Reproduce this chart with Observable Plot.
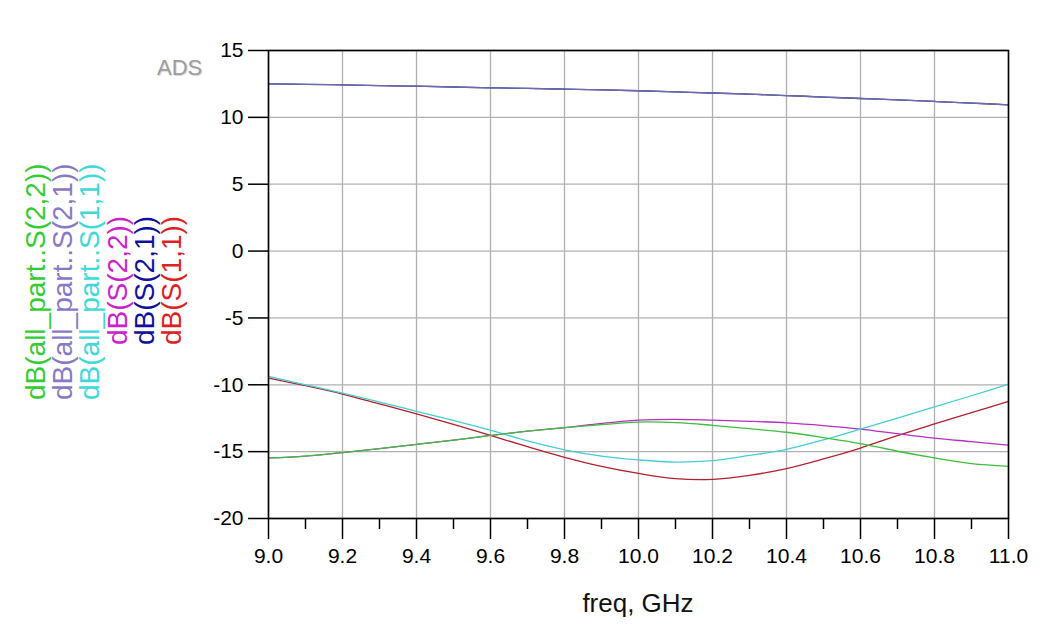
<!DOCTYPE html>
<html>
<head>
<meta charset="utf-8">
<script src="https://cdn.jsdelivr.net/npm/d3@7"></script>
<script src="https://cdn.jsdelivr.net/npm/@observablehq/plot@0.6"></script>
<style>
  html, body { margin: 0; padding: 0; background: #fff; }
  #wrap { position: relative; width: 1051px; height: 634px; overflow: hidden; font-family: "Liberation Sans", Arial, sans-serif; }
  #ads { position: absolute; left: 157px; top: 55px; font-size: 22px; color: #9c9c9c; text-shadow: 1px 1px 1px #d8d8d8; }
  #xtitle { position: absolute; left: 0; width: 1276px; top: 588px; text-align: center; font-size: 26px; color: #111; }
  #chart svg g[aria-label="y-axis tick label"] text,
  #chart svg g[aria-label="x-axis tick label"] text { font-size: 21px; }
</style>
</head>
<body>
<div id="wrap">
  <div id="chart"></div>
  <div id="ads">ADS</div>
  <div id="xtitle">freq, GHz</div>
</div>
<script>
// ---- data ----
const freq = [9.0, 9.1, 9.2, 9.3, 9.4, 9.5, 9.6, 9.7, 9.8, 9.9, 10.0, 10.1, 10.2, 10.3, 10.4, 10.5, 10.6, 10.7, 10.8, 10.9, 11.0];
const dB_S11 = [-9.50, -10.07, -10.69, -11.43, -12.18, -12.97, -13.79, -14.63, -15.42, -16.10, -16.63, -17.02, -17.07, -16.77, -16.27, -15.55, -14.73, -13.80, -12.93, -12.08, -11.24];
const dB_S21 = [12.51, 12.47, 12.43, 12.38, 12.33, 12.27, 12.21, 12.16, 12.11, 12.05, 11.99, 11.91, 11.82, 11.73, 11.63, 11.52, 11.41, 11.30, 11.19, 11.07, 10.94];
const dB_S22 = [-15.47, -15.33, -15.07, -14.78, -14.46, -14.14, -13.79, -13.47, -13.20, -12.88, -12.64, -12.58, -12.64, -12.73, -12.85, -13.05, -13.31, -13.66, -13.99, -14.25, -14.51];
const dB_all_S11 = [-9.38, -10.00, -10.62, -11.29, -11.98, -12.67, -13.39, -14.20, -14.86, -15.33, -15.62, -15.78, -15.67, -15.28, -14.83, -14.12, -13.31, -12.49, -11.66, -10.82, -9.95];
const dB_all_S21 = [12.51, 12.47, 12.43, 12.38, 12.33, 12.27, 12.21, 12.16, 12.11, 12.05, 11.99, 11.91, 11.82, 11.73, 11.63, 11.52, 11.41, 11.30, 11.19, 11.07, 10.94];
const dB_all_S22 = [-15.47, -15.33, -15.07, -14.78, -14.46, -14.14, -13.79, -13.47, -13.20, -12.98, -12.79, -12.83, -13.03, -13.28, -13.55, -13.95, -14.40, -14.97, -15.47, -15.90, -16.10];

const seriesNames = ["dB(S(1,1))", "dB(S(2,1))", "dB(S(2,2))", "dB(all_part..S(1,1))", "dB(all_part..S(2,1))", "dB(all_part..S(2,2))"];
const seriesValues = [dB_S11, dB_S21, dB_S22, dB_all_S11, dB_all_S21, dB_all_S22];
const lineColors = ["#b3202e", "#202080", "#b52fc0", "#45cdd6", "#6c6cae", "#3cbf3c"];
const legendColors = ["#dd2222", "#1010a0", "#cc22cc", "#40d8d8", "#8878c8", "#33cc33"];

const xTicks = [9.0, 9.2, 9.4, 9.6, 9.8, 10.0, 10.2, 10.4, 10.6, 10.8, 11.0];
const xMinorTicks = [9.1, 9.3, 9.5, 9.7, 9.9, 10.1, 10.3, 10.5, 10.7, 10.9];
const yTicks = [-20, -15, -10, -5, 0, 5, 10, 15];

// ---- build table ----
const rows = [];
seriesNames.forEach((name, i) => {
  freq.forEach((f, j) => rows.push({series: name, freq: f, value: seriesValues[i][j]}));
});

const chart = Plot.plot({
  width: 1051,
  height: 634,
  marginLeft: 268,
  marginRight: 43,
  marginTop: 50,
  marginBottom: 116,
  style: {fontFamily: "'Liberation Sans', Arial, sans-serif", fontSize: "21px", background: "#fff", color: "#000"},
  x: {domain: [9, 11]},
  y: {domain: [-20, 15]},
  color: {domain: seriesNames, range: lineColors},
  marks: [
    Plot.gridX(xTicks, {stroke: "#b0b0b0", strokeOpacity: 1, strokeWidth: 1.3}),
    Plot.gridY(yTicks, {stroke: "#b0b0b0", strokeOpacity: 1, strokeWidth: 1.3}),
    Plot.line(rows, {x: "freq", y: "value", z: "series", stroke: "series", strokeWidth: 1.3, curve: "catmull-rom"}),
    Plot.frame({stroke: "#000", strokeWidth: 1.6}),
    Plot.axisY(yTicks, {tickSize: 20, tickPadding: 5, label: null, fontSize: 21, strokeWidth: 1.5, tickFormat: d => String(d)}),
    Plot.axisX(xTicks, {tickSize: 21, tickPadding: 9, label: null, fontSize: 21, strokeWidth: 1.5, tickFormat: d => d.toFixed(1)}),
    Plot.axisX(xMinorTicks, {tickSize: 11, text: null, label: null, strokeWidth: 1.5})
  ]
});
document.getElementById("chart").appendChild(chart);
d3.select(chart).selectAll('g[aria-label$="tick label"] text').attr("font-size", 21).style("font-size", "21px");
d3.select(chart).selectAll('g[aria-label$="tick label"]').attr("font-size", 21);

// ---- rotated legend (left side) ----
const legendOrder = [5, 4, 3, 2, 1, 0];
const legendBaseX = [45, 72, 99, 127, 154, 181];
const legendBottomY = [400, 400, 400, 345, 345, 345];
const svg = d3.select(chart);
legendOrder.forEach((si, k) => {
  svg.append("text")
    .attr("transform", `translate(${legendBaseX[k]},${legendBottomY[k]}) rotate(-90)`)
    .attr("text-anchor", "start")
    .attr("font-size", 28)
    .attr("font-family", "'Liberation Sans', Arial, sans-serif")
    .attr("fill", legendColors[si])
    .text(seriesNames[si]);
});
</script>
</body>
</html>
